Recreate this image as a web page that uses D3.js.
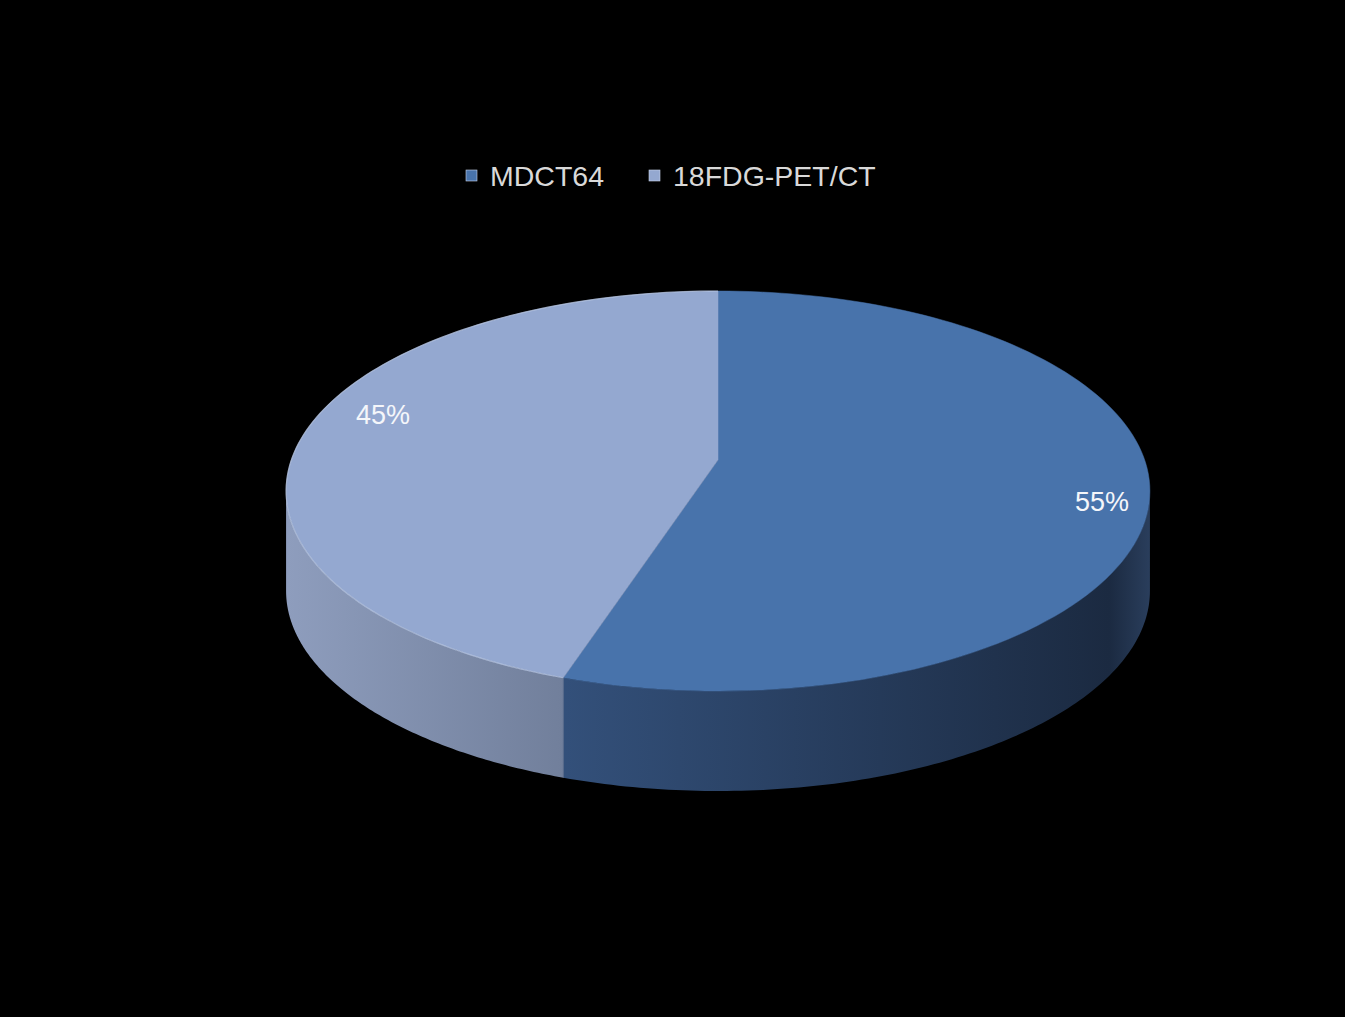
<!DOCTYPE html>
<html><head><meta charset="utf-8">
<script src="https://cdn.jsdelivr.net/npm/d3@7"></script>
<style>html,body{margin:0;padding:0;background:#000;}svg{display:block;}</style>
</head><body>
<svg id="c" width="1345" height="1017"></svg>
<script>
const categories = ["MDCT64", "18FDG-PET/CT"];
const values = [55, 45];
const labels = ["55%", "45%"];
const topColors = ["#4873ab", "#94a8d0"];
const sideStops = [["#33507a", "#1b2a41"], ["#8e9dbd", "#717f9b"]];

const svg = d3.select("#c");
svg.append("rect").attr("width",1345).attr("height",1017).attr("fill","#000");

// perspective projection of a circle: vertex at (cx, vy)
const cx = 718, vy = 460, A = 195.2, B = 426.7, k = -0.155, depth = 100;
const pt = (a, dy=0) => {
  const u = Math.sin(a), v = -Math.cos(a), s = 1 + k*v;
  return [cx + B*u/s, vy + A*v/s + dy];
};
const pie = d3.pie().sort(null).value(d => d)(values);

function arcPts(a0, a1, dy=0) {
  const n = 120, pts = [];
  for (let i=0;i<=n;i++){ pts.push(pt(a0 + (a1-a0)*i/n, dy)); }
  return pts;
}
const line = d3.line();

const defs = svg.append("defs");
sideStops.forEach((s,i)=>{
  const g = defs.append("linearGradient").attr("id","side"+i)
    .attr("gradientUnits","userSpaceOnUse")
    .attr("x1", i===0?565:287).attr("x2", i===0?1150:565).attr("y1",0).attr("y2",0);
  if (i===0){
    g.append("stop").attr("offset",0).attr("stop-color",s[0]);
    g.append("stop").attr("offset",0.93).attr("stop-color",s[1]);
    g.append("stop").attr("offset",1).attr("stop-color","#2a3e5c");
  } else {
    g.append("stop").attr("offset",0).attr("stop-color",s[0]);
    g.append("stop").attr("offset",1).attr("stop-color",s[1]);
  }
});

// silhouette angles where the side wall becomes visible
const sil0 = Math.acos(k), sil1 = 2*Math.PI - Math.acos(k);
pie.forEach((p,i)=>{
  const a0 = Math.max(p.startAngle, sil0), a1 = Math.min(p.endAngle, sil1);
  if (a1 <= a0) return;
  const topA = arcPts(a0,a1), botA = arcPts(a0,a1,depth).reverse();
  svg.append("path").attr("d", line(topA.concat(botA)) + "Z")
    .attr("fill", `url(#side${i})`);
});

// top faces
pie.forEach((p,i)=>{
  const pts = [[cx, vy]].concat(arcPts(p.startAngle, p.endAngle));
  svg.append("path").attr("d", line(pts)+"Z").attr("fill", topColors[i])
    .attr("stroke", topColors[i]).attr("stroke-width",0.5);
});
// rim highlight on light slice
svg.append("path").attr("d", line(arcPts(pie[1].startAngle, 2*Math.PI)))
  .attr("fill","none").attr("stroke","#c3d0ea").attr("stroke-width",1.2).attr("opacity",0.6);
// seam line
const sp = pt(pie[0].endAngle);
svg.append("line").attr("x1",sp[0]).attr("y1",sp[1]).attr("x2",sp[0]).attr("y2",sp[1]+depth)
  .attr("stroke","#5d6f92").attr("stroke-width",1);

// data labels
const labelPos = [[1102, 511], [383, 424]];
labels.forEach((t,i)=>{
  svg.append("text").attr("x",labelPos[i][0]).attr("y",labelPos[i][1])
    .attr("text-anchor","middle").attr("fill","#f4f6fa")
    .attr("font-family","Liberation Sans, Arial, sans-serif").attr("font-size",27)
    .text(t);
});

// legend
const lg = svg.append("g");
const legX = [466, 649];
categories.forEach((c,i)=>{
  lg.append("rect").attr("x",legX[i]).attr("y",170).attr("width",11).attr("height",11)
    .attr("fill", topColors[i]).attr("stroke","#c8d4ea").attr("stroke-width",0.6);
  lg.append("text").attr("x",legX[i]+24).attr("y",186)
    .attr("fill","#d9d9d9").attr("font-family","Liberation Sans, Arial, sans-serif")
    .attr("font-size",28.5).text(c);
});
</script>
</body></html>
